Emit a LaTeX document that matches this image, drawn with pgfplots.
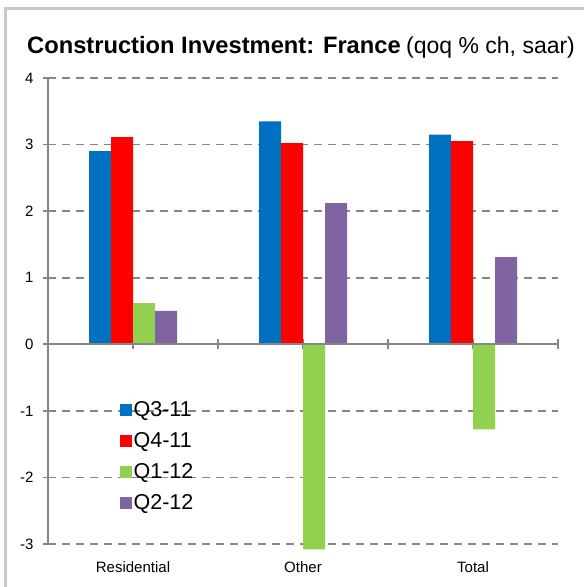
\documentclass[border=0pt]{standalone}
\usepackage{fontspec}
\setmainfont{Liberation Sans}
\usepackage{pgfplots}
\pgfplotsset{compat=1.18}
\definecolor{qblue}{HTML}{0070C0}
\definecolor{qred}{HTML}{FF0000}
\definecolor{qgreen}{HTML}{92D050}
\definecolor{qpurple}{HTML}{8064A2}
\definecolor{axisgray}{HTML}{868686}
\definecolor{framegray}{HTML}{C8C8C8}
\begin{document}
\begin{tikzpicture}
\path[use as bounding box] (0pt,0pt) rectangle (584pt,587pt);
\draw[line width=3.5pt, framegray] (5.3pt,0pt) -- (5.3pt,578.5pt) -- (584pt,578.5pt);
\node[anchor=base west, inner sep=0pt, font=\fontsize{23.7}{27}\selectfont\bfseries] at (27pt,533pt) {Construction Investment: France};
\node[anchor=base west, inner sep=0pt, font=\fontsize{23}{27}\selectfont] at (406pt,533pt) {(qoq \% ch, saar)};
\begin{axis}[
  at={(48pt,43pt)}, anchor=south west,
  scale only axis, width=510pt, height=466pt,
  xmin=-0.5, xmax=2.5, ymin=-3, ymax=4,
  clip=false,
  ybar=0pt, bar width=22pt,
  axis lines*=left,
  x axis line style={draw=none},
  y axis line style={draw=axisgray, line width=1.8pt, -},
  xtick={0,1,2}, xticklabels={Residential,Other,Total},
  xtick style={draw=none},
  ytick={-3,-2,-1,0,1,2,3,4},
  yticklabels={-3,-2,-1,0,1,2,3,4},
  ytick style={draw=axisgray, line width=1.8pt},
  tick align=outside, major tick length=5pt,
  ymajorgrids,
  major grid style={draw=axisgray, line width=1.8pt, dash pattern=on 8pt off 6pt},
  tick label style={font=\fontsize{15}{18}\selectfont},
  xticklabel style={yshift=-9pt},
  yticklabel style={xshift=-6pt},
  /pgf/number format/assume math mode=true,
  legend style={draw=none, fill=none, at={(0.14,0.31)}, anchor=north west,
    font=\fontsize{21.5}{25}\selectfont, row sep=10.5pt, inner sep=0pt,
    /tikz/every even column/.append style={column sep=2pt}},
  legend cell align=left,
  legend image code/.code={\draw[#1, draw=none] (0pt,-6pt) rectangle (12pt,6pt);},
]
\pgfplotsinvokeforeach{-0.5,0,0.5,1,1.5,2,2.5}{
  \draw[axisgray, line width=1.8pt] (axis cs:#1,0) ++(0pt,-5pt) -- ++(0pt,10pt);
}
\addplot[fill=qblue, draw=none] coordinates {(0,2.90) (1,3.35) (2,3.15)};
\addlegendentry{Q3-11}
\addplot[fill=qred, draw=none] coordinates {(0,3.11) (1,3.02) (2,3.05)};
\addlegendentry{Q4-11}
\addplot[fill=qgreen, draw=none] coordinates {(0,0.62) (1,-3.08) (2,-1.28)};
\addlegendentry{Q1-12}
\addplot[fill=qpurple, draw=none] coordinates {(0,0.50) (1,2.12) (2,1.31)};
\addlegendentry{Q2-12}
\draw[axisgray, line width=1.8pt] (axis cs:-0.5,0) -- (axis cs:2.5,0);
\end{axis}
\end{tikzpicture}
\end{document}
